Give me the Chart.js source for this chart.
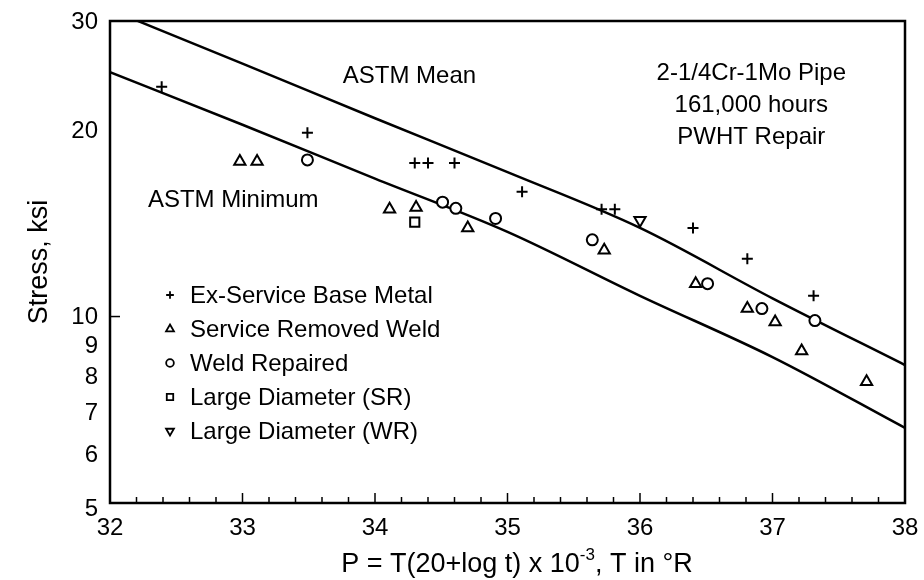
<!DOCTYPE html>
<html>
<head>
<meta charset="utf-8">
<script src="https://cdn.jsdelivr.net/npm/chart.js@4.4.1/dist/chart.umd.min.js"></script>
<style>
html,body{margin:0;padding:0;background:#fff;}
#wrap{width:924px;height:580px;}
</style>
</head>
<body>
<div id="wrap"><canvas id="chart" width="924" height="580"></canvas></div>
<script>
// x = P parameter, y = stress (ksi)
const xTicks = [32, 33, 34, 35, 36, 37, 38];
const yTicks = [5, 6, 7, 8, 9, 10, 20, 30];

const pCurve = [32, 33, 34, 35, 36, 37, 38];
const sMean = [31.3, 25.6, 20.9, 17.1, 13.9, 10.7, 8.35];
const sMin = [24.8, 20.4, 16.7, 13.7, 10.8, 8.6, 6.61];

const pBase = [32.39, 33.49, 34.30, 34.40, 34.60, 35.11, 35.71, 35.81, 36.40, 36.81, 37.31];
const sBase = [23.5, 19.8, 17.7, 17.7, 17.7, 15.9, 14.9, 14.9, 13.9, 12.4, 10.8];

const pWeld = [32.98, 33.11, 34.11, 34.31, 34.70, 35.73, 36.42, 36.81, 37.02, 37.22, 37.71];
const sWeld = [17.8, 17.8, 14.9, 15.0, 13.9, 12.8, 11.3, 10.3, 9.8, 8.8, 7.85];

const pRepair = [33.49, 34.51, 34.61, 34.91, 35.64, 36.51, 36.92, 37.32];
const sRepair = [17.9, 15.3, 14.95, 14.4, 13.3, 11.3, 10.3, 9.85];

const pSR = [34.30];
const sSR = [14.2];
const pWR = [36.00];
const sWR = [14.3];

const FONT = '"Liberation Sans", Arial, Helvetica, sans-serif';
const pts = (xs, ys) => xs.map((v, i) => ({x: v, y: ys[i]}));

const series = [
  {label: 'Ex-Service Base Metal', data: pts(pBase, sBase), style: 'cross', r: 5.5, rot: 0},
  {label: 'Service Removed Weld', data: pts(pWeld, sWeld), style: 'triangle', r: 6.5, rot: 0},
  {label: 'Weld Repaired', data: pts(pRepair, sRepair), style: 'circle', r: 5.5, rot: 0},
  {label: 'Large Diameter (SR)', data: pts(pSR, sSR), style: 'rect', r: 6.5, rot: 0},
  {label: 'Large Diameter (WR)', data: pts(pWR, sWR), style: 'triangle', r: 6.5, rot: 180}
];

const datasets = series.map(s => ({
  label: s.label, data: s.data, pointStyle: s.style, pointRadius: s.r, pointRotation: s.rot,
  pointBorderWidth: 2, borderColor: '#000', backgroundColor: '#fff', showLine: false, order: 1
}));
datasets.push({label: 'ASTM Mean', data: pts(pCurve, sMean), showLine: true, pointRadius: 0,
  borderColor: '#000', borderWidth: 2.5, cubicInterpolationMode: 'monotone', order: 2});
datasets.push({label: 'ASTM Minimum', data: pts(pCurve, sMin), showLine: true, pointRadius: 0,
  borderColor: '#000', borderWidth: 2.5, cubicInterpolationMode: 'monotone', order: 2});

const notes = [
  {text: 'ASTM Mean', x: 34.26, y: 24.4},
  {text: 'ASTM Minimum', x: 32.93, y: 15.4},
  {text: '2-1/4Cr-1Mo Pipe', x: 36.84, y: 24.7},
  {text: '161,000 hours', x: 36.84, y: 21.9},
  {text: 'PWHT Repair', x: 36.84, y: 19.5}
];

const decor = {
  id: 'decor',
  afterDatasetsDraw(chart) {
    const {ctx, chartArea: a, scales: {x, y}} = chart;
    ctx.save();
    ctx.strokeStyle = '#000';
    ctx.lineWidth = 2.5;
    ctx.strokeRect(a.left, a.top, a.right - a.left, a.bottom - a.top);
    // inward ticks
    ctx.lineWidth = 1.5;
    for (let i = 0; i <= 30; i++) {
      const px = x.getPixelForValue(32 + i * 0.2);
      const len = i % 5 === 0 ? 10 : 6;
      ctx.beginPath(); ctx.moveTo(px, a.bottom); ctx.lineTo(px, a.bottom - len); ctx.stroke();
    }
    const py10 = y.getPixelForValue(10);
    ctx.beginPath(); ctx.moveTo(a.left, py10); ctx.lineTo(a.left + 10, py10); ctx.stroke();

    // tick labels
    ctx.fillStyle = '#000';
    ctx.font = '24px ' + FONT;
    ctx.textBaseline = 'middle';
    ctx.textAlign = 'center';
    xTicks.forEach(v => ctx.fillText(String(v), x.getPixelForValue(v), a.bottom + 25));
    ctx.textAlign = 'right';
    yTicks.forEach(v => ctx.fillText(String(v), a.left - 12, y.getPixelForValue(v) + (v === 5 ? 6 : 1)));

    // annotations
    ctx.textAlign = 'center';
    notes.forEach(n => ctx.fillText(n.text, x.getPixelForValue(n.x), y.getPixelForValue(n.y)));

    // legend
    ctx.textAlign = 'left';
    series.forEach((s, i) => {
      const ly = a.top + 274 + i * 34;
      ctx.lineWidth = 1.8;
      ctx.strokeStyle = '#000';
      ctx.fillStyle = '#fff';
      Chart.helpers.drawPoint(ctx, {pointStyle: s.style, rotation: s.rot, radius: s.r * 0.7, borderWidth: 1.8}, a.left + 60, ly);
      ctx.fillStyle = '#000';
      ctx.fillText(s.label, a.left + 80, ly + 1);
    });

    // axis titles
    ctx.font = '27px ' + FONT;
    ctx.save();
    ctx.translate(40, (a.top + a.bottom) / 2);
    ctx.rotate(-Math.PI / 2);
    ctx.textAlign = 'center';
    ctx.fillText('Stress, ksi', 0, 0);
    ctx.restore();

    const t1 = 'P = T(20+log t) x 10', t2 = '-3', t3 = ', T in \u00B0R';
    ctx.font = '27px ' + FONT;
    const w1 = ctx.measureText(t1).width, w3 = ctx.measureText(t3).width;
    ctx.font = '17px ' + FONT;
    const w2 = ctx.measureText(t2).width;
    const sx = 517 - (w1 + w2 + w3) / 2;
    const ty = 565;
    ctx.textAlign = 'left';
    ctx.font = '27px ' + FONT;
    ctx.fillText(t1, sx, ty);
    ctx.font = '17px ' + FONT;
    ctx.fillText(t2, sx + w1, ty - 10);
    ctx.font = '27px ' + FONT;
    ctx.fillText(t3, sx + w1 + w2, ty);
    ctx.restore();
  }
};

new Chart(document.getElementById('chart').getContext('2d'), {
  type: 'scatter',
  data: {datasets: datasets},
  options: {
    responsive: false,
    devicePixelRatio: 1,
    animation: false,
    layout: {padding: {top: 21, right: 19, left: 0, bottom: 0}},
    plugins: {legend: {display: false}, tooltip: {enabled: false}},
    scales: {
      x: {
        type: 'linear', min: 32, max: 38,
        afterBuildTicks: s => { s.ticks = xTicks.map(v => ({value: v})); },
        afterFit: s => { s.height = 77; },
        grid: {display: false, drawTicks: false},
        border: {display: false},
        ticks: {display: false}
      },
      y: {
        type: 'logarithmic', min: 5, max: 30,
        afterBuildTicks: s => { s.ticks = yTicks.map(v => ({value: v})); },
        afterFit: s => { s.width = 110; },
        grid: {display: false, drawTicks: false},
        border: {display: false},
        ticks: {display: false}
      }
    }
  },
  plugins: [decor]
});
</script>
</body>
</html>
